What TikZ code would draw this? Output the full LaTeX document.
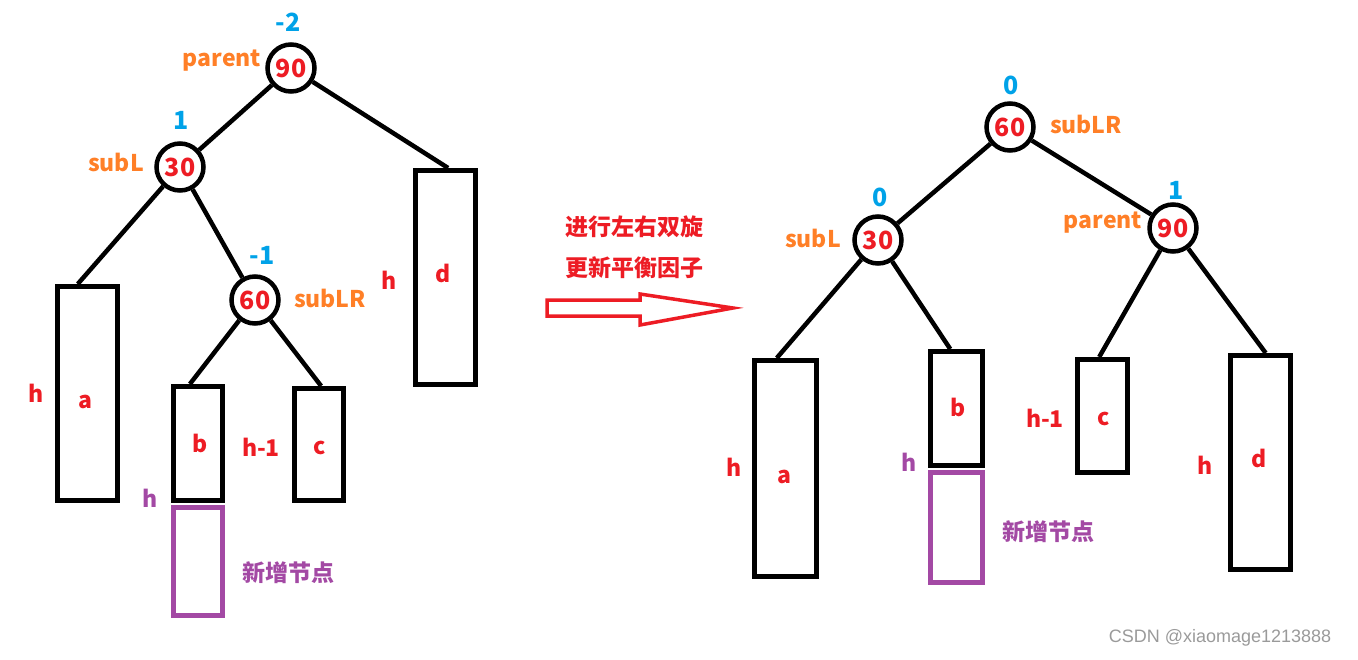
\documentclass[tikz,border=0pt]{standalone}
\usepackage{fontspec}
\setmainfont{Noto Sans CJK SC}
\newfontfamily\wmfont{Liberation Sans}
\usetikzlibrary{calc}
\definecolor{cred}{HTML}{ED1C24}
\definecolor{corange}{HTML}{FF7F27}
\definecolor{cblue}{HTML}{00A2E8}
\definecolor{cpurple}{HTML}{A349A4}
\definecolor{cgray}{HTML}{9A9A9A}
\tikzset{
  x=1pt, y=-1pt,
  tnode/.style={circle, draw=black, line width=4.5pt, minimum size=47pt, inner sep=0pt, fill=white,
    text=cred, font=\fontsize{25}{28}\selectfont\bfseries},
  subtree/.style={draw=black, line width=5pt, inner sep=0pt},
  newbox/.style={draw=cpurple, line width=5pt, inner sep=0pt},
  edge/.style={draw=black, line width=4.5pt},
  txt/.style={inner sep=0pt, font=\fontsize{23}{26}\selectfont\bfseries},
  redt/.style={txt, text=cred},
  bft/.style={txt, text=cblue, font=\fontsize{25}{28}\selectfont\bfseries},
  namet/.style={txt, text=corange},
  purt/.style={txt, text=cpurple},
}
\newcommand{\boxat}[6]{\node[#6, minimum width=#4-#2-5, minimum height=#5-#3-5] (#1) at ({(#2+#4)/2},{(#3+#5)/2}) {};}
\begin{document}
\begin{tikzpicture}
\useasboundingbox (0,0) rectangle (1358,659);
% ---------------- left tree ----------------
\node[tnode] (L90) at (291,68) {90};
\node[tnode] (L30) at (180,167) {30};
\node[tnode] (L60) at (255,300) {60};
\boxat{La}{55}{284}{120}{503}{subtree}
\boxat{Lb}{171}{384}{225}{503}{subtree}
\boxat{Lc}{292}{386}{346}{503}{subtree}
\boxat{Ld}{413}{168}{478}{387}{subtree}
\boxat{Lnew}{171}{505}{225}{618}{newbox}
\draw[edge] (L90) -- ($(Ld.north west)!0.54!(Ld.north east)$);
\draw[edge] (L90) -- (L30);
\draw[edge] (L30) -- ($(La.north west)!0.35!(La.north east)$);
\draw[edge] (L30) -- (L60);
\draw[edge] (L60) -- ($(Lb.north west)!0.35!(Lb.north east)$);
\draw[edge] (L60) -- ($(Lc.north west)!0.54!(Lc.north east)$);
\node[bft] (Lbf90) at (288,22) {-2};
\node[namet] (Lparent) at (222,61) {parent};
\node[bft] (Lbf30) at (181,120) {1};
\node[namet] (LsubL) at (116,162) {subL};
\node[bft] (Lbf60) at (262,255) {-1};
\node[namet] (LsubLR) at (330,298) {subLR};
\node[redt] (Lha) at (36,393) {h};
\node[redt] (Lta) at (85,402) {a};
\node[redt] (Ltb) at (200,443) {b};
\node[purt] (Lhb) at (150,498) {h};
\node[redt] (Lhc) at (261,447) {h-1};
\node[redt] (Ltc) at (320,448) {c};
\node[purt] (Lnewt) at (288,573) {新增节点};
\node[redt] (Lhd) at (389,280) {h};
\node[redt] (Ltd) at (443,273) {d};
% ---------------- middle ----------------
\node[redt] (op1) at (634,227) {进行左右双旋};
\node[redt] (op2) at (634,268) {更新平衡因子};
\draw[draw=cred, line width=3.5pt, fill=white, line join=miter]
  (547,300) -- (640,300) -- (640,294) -- (733,308) -- (640,325) -- (640,316) -- (547,316) -- cycle;
% ---------------- right tree ----------------
\node[tnode] (R60) at (1010,127) {60};
\node[tnode] (R30) at (878,240) {30};
\node[tnode] (R90) at (1173,228) {90};
\boxat{Ra}{752}{358}{819}{579}{subtree}
\boxat{Rb}{928}{349}{985}{468}{subtree}
\boxat{Rc}{1075}{357}{1130}{475}{subtree}
\boxat{Rd}{1228}{353}{1293}{572}{subtree}
\boxat{Rnew}{928}{470}{985}{585}{newbox}
\draw[edge] (R60) -- (R30);
\draw[edge] (R60) -- (R90);
\draw[edge] (R30) -- ($(Ra.north west)!0.37!(Ra.north east)$);
\draw[edge] (R30) -- ($(Rb.north west)!0.39!(Rb.north east)$);
\draw[edge] (R90) -- ($(Rc.north west)!0.44!(Rc.north east)$);
\draw[edge] (R90) -- ($(Rd.north west)!0.58!(Rd.north east)$);
\node[bft] (Rbf60) at (1011,85) {0};
\node[namet] (RsubLR) at (1086,124) {subLR};
\node[bft] (Rbf30) at (880,197) {0};
\node[namet] (RsubL) at (813,238) {subL};
\node[bft] (Rbf90) at (1176,190) {1};
\node[namet] (Rparent) at (1103,223) {parent};
\node[redt] (Rha) at (734,467) {h};
\node[redt] (Rta) at (784,477) {a};
\node[redt] (Rtb) at (958,407) {b};
\node[purt] (Rhb) at (909,462) {h};
\node[purt] (Rnewt) at (1048,532) {新增节点};
\node[redt] (Rhc) at (1045,418) {h-1};
\node[redt] (Rtc) at (1104,419) {c};
\node[redt] (Rhd) at (1205,465) {h};
\node[redt] (Rtd) at (1259,458) {d};
% watermark
\node[inner sep=0pt, text=cgray, font=\wmfont\fontsize{18}{20}\selectfont] (wm) at (1220,638) {CSDN @xiaomage1213888};
\end{tikzpicture}
\end{document}
